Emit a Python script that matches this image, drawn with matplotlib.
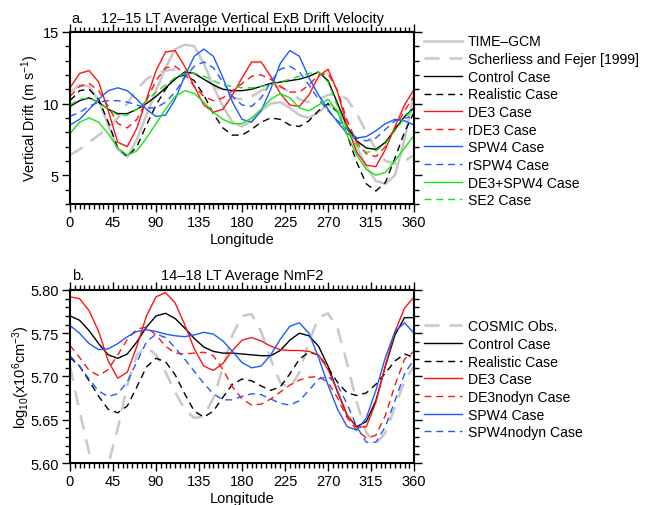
import numpy as np
import matplotlib
matplotlib.use("Agg")
import matplotlib.pyplot as plt
from matplotlib.ticker import MultipleLocator

plt.rcParams['font.family'] = ['Liberation Sans', 'DejaVu Sans']
plt.rcParams['mathtext.default'] = 'regular'

lon = np.arange(0, 361, 10)

# panel a: vertical ExB drift (m/s)
time_gcm = [10.8, 11.3, 11.2, 10.2, 8.5, 6.8, 6.3, 7.5, 9.2, 10.9, 12.5, 13.8, 14.1, 14.0, 12.8,
            11.2, 9.8, 8.7, 8.4, 8.8, 9.5, 10.0, 10.1, 9.7, 9.2, 9.0, 9.4, 9.9, 9.6, 8.3,
            7.0, 5.6, 4.6, 4.4, 5.0, 7.5, 10.8]
sf1999 = [6.4, 6.8, 7.3, 7.8, 8.3, 9.0, 10.0, 11.0, 11.7, 12.1, 12.3, 12.4, 12.3, 12.1, 11.8,
          11.3, 10.8, 10.4, 10.3, 10.5, 10.9, 11.2, 11.2, 10.8, 10.3, 10.1, 10.3, 10.6, 10.7, 10.3,
          9.3, 8.0, 6.8, 6.0, 5.8, 6.0, 6.4]
control_a = [9.8, 10.2, 10.4, 10.1, 9.6, 9.3, 9.3, 9.6, 10.0, 10.5, 11.1, 11.7, 12.2, 12.1, 11.7,
             11.3, 11.0, 10.9, 10.9, 11.0, 11.2, 11.4, 11.5, 11.6, 11.7, 11.9, 12.2, 11.6, 10.0, 8.4,
             7.4, 6.9, 6.8, 7.3, 8.2, 9.1, 9.7]
realistic_a = [10.2, 10.9, 11.0, 10.3, 8.7, 6.9, 6.3, 7.0, 8.5, 9.9, 11.0, 11.8, 12.0, 11.6, 10.6,
               9.3, 8.3, 7.8, 7.8, 8.2, 8.7, 9.0, 8.9, 8.5, 8.4, 8.8, 9.5, 10.0, 9.4, 7.8,
               5.9, 4.4, 3.9, 4.5, 6.2, 8.0, 9.4]
de3_a = [11.1, 12.1, 12.3, 11.5, 9.5, 7.3, 7.0, 8.3, 10.3, 12.3, 13.6, 13.7, 12.6, 11.2, 9.9,
         9.4, 9.6, 10.6, 11.8, 12.9, 12.9, 11.9, 10.7, 9.9, 9.8, 10.6, 11.9, 12.4, 10.8, 8.4,
         6.6, 5.7, 5.6, 6.8, 8.4, 9.9, 11.0]
rde3_a = [10.5, 11.2, 11.4, 10.9, 9.8, 8.6, 8.3, 8.9, 10.2, 11.6, 12.5, 12.6, 12.1, 11.2, 10.5,
          10.2, 10.4, 10.9, 11.4, 11.9, 12.0, 11.7, 11.2, 10.8, 10.8, 11.3, 12.0, 12.1, 10.9, 8.8,
          7.3, 6.5, 6.3, 7.0, 8.3, 9.5, 10.5]
spw4_a = [8.5, 8.9, 9.6, 10.3, 10.9, 11.1, 10.9, 10.3, 9.6, 9.1, 9.2, 10.3, 11.9, 13.3, 13.8,
          13.3, 11.8, 10.1, 8.9, 8.7, 9.5, 11.0, 12.8, 13.7, 13.3, 11.8, 10.6, 9.6, 8.7, 7.9,
          7.6, 7.7, 8.1, 8.6, 8.9, 8.8, 8.5]
rspw4_a = [9.1, 9.4, 9.8, 10.1, 10.2, 10.2, 10.1, 9.9, 9.7, 9.7, 10.1, 10.8, 11.8, 12.6, 12.9,
           12.5, 11.5, 10.5, 9.9, 9.8, 10.4, 11.5, 12.4, 12.6, 12.2, 11.3, 10.3, 9.5, 8.8, 8.2,
           7.6, 7.4, 7.6, 8.2, 8.8, 9.0, 9.1]
de3spw4_a = [7.9, 8.7, 9.0, 8.7, 7.9, 6.9, 6.4, 6.7, 7.6, 8.6, 9.6, 10.5, 10.9, 10.7, 10.1,
             9.4, 8.9, 8.6, 8.6, 9.0, 9.6, 10.3, 10.7, 10.4, 9.7, 9.5, 9.9, 10.3, 9.4, 7.8,
             6.4, 5.4, 5.0, 5.2, 6.0, 6.9, 7.8]
se2_a = [9.9, 10.3, 10.4, 10.1, 9.6, 9.2, 9.2, 9.6, 10.2, 10.8, 11.3, 11.8, 12.1, 12.1, 11.9,
         11.6, 11.3, 11.2, 11.1, 11.1, 11.2, 11.3, 11.5, 11.7, 11.9, 12.1, 12.2, 11.5, 9.8, 8.2,
         7.1, 6.6, 6.7, 7.2, 8.1, 9.0, 9.7]

# panel b: log10 NmF2
cosmic = [5.712, 5.660, 5.612, 5.575, 5.598, 5.640, 5.690, 5.725, 5.734, 5.725, 5.705, 5.682, 5.662,
          5.652, 5.654, 5.675, 5.710, 5.748, 5.770, 5.772, 5.752, 5.720, 5.693, 5.686, 5.705, 5.740,
          5.768, 5.773, 5.755, 5.715, 5.670, 5.635, 5.622, 5.635, 5.665, 5.695, 5.712]
control_b = [5.770, 5.765, 5.753, 5.738, 5.725, 5.721, 5.726, 5.740, 5.757, 5.770, 5.773, 5.767, 5.756,
             5.744, 5.734, 5.729, 5.727, 5.727, 5.726, 5.725, 5.724, 5.724, 5.730, 5.742, 5.750, 5.747,
             5.735, 5.712, 5.682, 5.655, 5.642, 5.648, 5.672, 5.712, 5.748, 5.768, 5.768]
realistic_b = [5.722, 5.712, 5.695, 5.677, 5.662, 5.658, 5.666, 5.688, 5.711, 5.721, 5.717, 5.702, 5.680,
               5.660, 5.653, 5.660, 5.676, 5.691, 5.697, 5.695, 5.689, 5.684, 5.688, 5.703, 5.720, 5.728,
               5.725, 5.710, 5.693, 5.681, 5.678, 5.681, 5.691, 5.704, 5.718, 5.726, 5.722]
de3_b = [5.792, 5.790, 5.776, 5.752, 5.718, 5.698, 5.705, 5.735, 5.770, 5.792, 5.797, 5.785, 5.760,
         5.732, 5.712, 5.707, 5.715, 5.730, 5.742, 5.745, 5.741, 5.735, 5.731, 5.730, 5.730, 5.729,
         5.725, 5.708, 5.683, 5.655, 5.641, 5.642, 5.670, 5.713, 5.752, 5.779, 5.792]
de3nodyn_b = [5.736, 5.722, 5.707, 5.701, 5.708, 5.725, 5.743, 5.755, 5.757, 5.748, 5.735, 5.727, 5.726,
              5.727, 5.728, 5.724, 5.708, 5.688, 5.674, 5.667, 5.668, 5.674, 5.682, 5.690, 5.696, 5.699,
              5.700, 5.693, 5.675, 5.652, 5.638, 5.629, 5.632, 5.655, 5.690, 5.720, 5.729]
spw4_b = [5.759, 5.750, 5.738, 5.731, 5.732, 5.738, 5.746, 5.752, 5.754, 5.752, 5.749, 5.747, 5.746,
          5.748, 5.751, 5.749, 5.741, 5.729, 5.716, 5.710, 5.712, 5.725, 5.743, 5.758, 5.762, 5.750,
          5.722, 5.690, 5.662, 5.642, 5.638, 5.652, 5.684, 5.722, 5.752, 5.762, 5.750]
spw4nodyn_b = [5.724, 5.712, 5.697, 5.683, 5.677, 5.680, 5.694, 5.717, 5.740, 5.749, 5.745, 5.733, 5.720,
               5.706, 5.692, 5.680, 5.673, 5.673, 5.677, 5.680, 5.679, 5.674, 5.669, 5.667, 5.672, 5.684,
               5.697, 5.700, 5.690, 5.668, 5.642, 5.624, 5.624, 5.642, 5.672, 5.703, 5.720]

GRAY = '#c8c8c8'
RED = '#ff1414'
BLUE = '#1e5aff'
GREEN = '#14e614'
DASH = (5, 3.5)
LW = 1.0


def style_axes(ax):
    ax.set_xlim(0, 360)
    ax.xaxis.set_major_locator(MultipleLocator(45))
    ax.xaxis.set_minor_locator(MultipleLocator(5))
    ax.tick_params(which='both', direction='out', top=True, right=True,
                   labelsize=10.5, width=1)
    ax.tick_params(which='major', length=6, pad=2)
    ax.tick_params(which='minor', length=3.5)
    for s in ax.spines.values():
        s.set_linewidth(1.5)
    ax.set_xlabel('Longitude', fontsize=10.5, labelpad=2)


def add_legend(ax, y):
    ax.legend(loc='upper left', bbox_to_anchor=(1.03, y), frameon=False,
              fontsize=10.1, handlelength=2.7, handletextpad=0.4,
              labelspacing=0.26, borderpad=0, borderaxespad=0)


fig = plt.figure(figsize=(6.45, 5.06), dpi=100)

# ---- panel a
ax1 = fig.add_axes([0.1085, 0.595, 0.5335, 0.340])
ax1.plot(lon, time_gcm, color=GRAY, lw=1.8, label='TIME\u2013GCM')
ax1.plot(lon, sf1999, color=GRAY, lw=1.8, dashes=(6, 4), label='Scherliess and Fejer [1999]')
ax1.plot(lon, control_a, color='black', lw=LW, label='Control Case')
ax1.plot(lon, realistic_a, color='black', lw=LW, dashes=DASH, label='Realistic Case')
ax1.plot(lon, de3_a, color=RED, lw=LW, label='DE3 Case')
ax1.plot(lon, rde3_a, color=RED, lw=LW, dashes=DASH, label='rDE3 Case')
ax1.plot(lon, spw4_a, color=BLUE, lw=LW, label='SPW4 Case')
ax1.plot(lon, rspw4_a, color=BLUE, lw=LW, dashes=DASH, label='rSPW4 Case')
ax1.plot(lon, de3spw4_a, color=GREEN, lw=LW, label='DE3+SPW4 Case')
ax1.plot(lon, se2_a, color=GREEN, lw=LW, dashes=DASH, label='SE2 Case')
style_axes(ax1)
ax1.set_ylim(3, 15)
ax1.yaxis.set_major_locator(MultipleLocator(5))
ax1.yaxis.set_minor_locator(MultipleLocator(1))
ax1.set_ylabel('Vertical Drift (m s$^{-1}$)', fontsize=10.3, labelpad=1)
ax1.text(0.005, 1.058, 'a.', transform=ax1.transAxes, fontsize=10.5, va='baseline')
ax1.text(0.5, 1.058, '12\u201315 LT Average Vertical ExB Drift Velocity',
         transform=ax1.transAxes, fontsize=10.4, ha='center', va='baseline')
add_legend(ax1, 0.985)

# ---- panel b
ax2 = fig.add_axes([0.1085, 0.083, 0.5335, 0.342])
ax2.plot(lon, cosmic, color=GRAY, lw=1.8, dashes=(6, 4), label='COSMIC Obs.')
ax2.plot(lon, control_b, color='black', lw=LW, label='Control Case')
ax2.plot(lon, realistic_b, color='black', lw=LW, dashes=DASH, label='Realistic Case')
ax2.plot(lon, de3_b, color=RED, lw=LW, label='DE3 Case')
ax2.plot(lon, de3nodyn_b, color=RED, lw=LW, dashes=DASH, label='DE3nodyn Case')
ax2.plot(lon, spw4_b, color=BLUE, lw=LW, label='SPW4 Case')
ax2.plot(lon, spw4nodyn_b, color=BLUE, lw=LW, dashes=DASH, label='SPW4nodyn Case')
style_axes(ax2)
ax2.set_ylim(5.60, 5.80)
ax2.yaxis.set_major_locator(MultipleLocator(0.05))
ax2.yaxis.set_minor_locator(MultipleLocator(0.01))
ax2.yaxis.set_major_formatter(matplotlib.ticker.FormatStrFormatter('%.2f'))
ax2.set_ylabel('log$_{10}$(x10$^{6}$cm$^{-3}$)', fontsize=10.5, labelpad=-1)
ax2.text(0.005, 1.064, 'b.', transform=ax2.transAxes, fontsize=10.5, va='baseline')
ax2.text(0.5, 1.064, '14\u201318 LT Average NmF2', transform=ax2.transAxes,
         fontsize=10.5, ha='center', va='baseline')
add_legend(ax2, 0.83)

fig.savefig('out.png', dpi=100)
